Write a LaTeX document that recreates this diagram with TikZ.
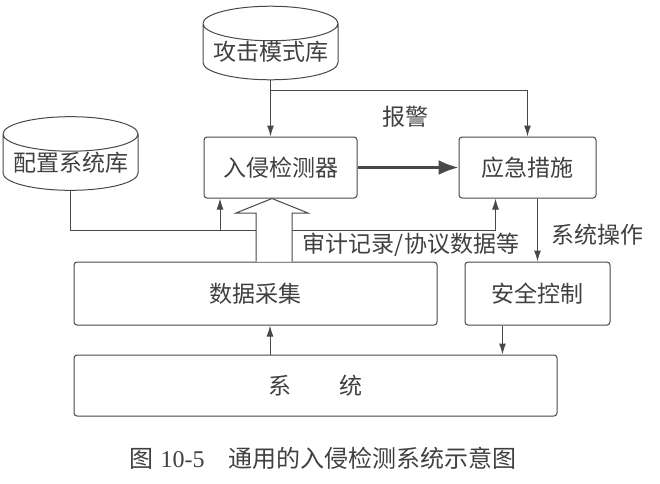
\documentclass[tikz,border=0pt]{standalone}
\usepackage{fontspec}
\newfontfamily\cjk{Noto Sans CJK SC}
\newfontfamily\capnum{Liberation Serif}
\usetikzlibrary{arrows.meta, shapes.geometric, positioning, calc}
\tikzset{every node/.append style={align=center}}
\definecolor{linegray}{RGB}{72,72,72}
\definecolor{textgray}{RGB}{64,64,64}

\tikzset{
  box/.style={draw=linegray, line width=1pt, rounded corners=3pt, inner sep=0pt,
              text=textgray, font=\cjk\fontsize{23}{26}\selectfont},
  db/.style={cylinder, shape border rotate=90, aspect=0.3, draw=linegray,
             line width=1pt, inner sep=0pt, minimum width=135pt, minimum height=65pt,
             anchor=shape center, text=textgray, font=\cjk\fontsize{23}{26}\selectfont},
  lbl/.style={text=textgray, inner sep=0pt, font=\cjk\fontsize{23}{26}\selectfont},
  flow/.style={linegray, line width=1pt, -{Latex[length=11pt,width=7pt]}}
}

\begin{document}
\begin{tikzpicture}[x=1pt,y=-1pt]
\useasboundingbox (0,0) rectangle (660,483);

% ── Databases ────────────────────────────────────────────────────────────────
\node[db] (atk) at (270.5,43) {攻击模式库};
\node[db] (cfg) at (70.5,153.5) {配置系统库};

% ── Boxes ────────────────────────────────────────────────────────────────────
\node[box, minimum width=153pt, minimum height=61pt] (ids)     at (280.5,167.5) {入侵检测器};
\node[box, minimum width=137pt, minimum height=61pt] (resp)    at (527.5,167.5) {应急措施};
\node[box, minimum width=363pt, minimum height=63pt] (collect) at (255.5,293.5) {数据采集};
\node[box, minimum width=145pt, minimum height=63pt] (safe)    at (537.5,293.5) {安全控制};
\node[box, minimum width=483pt, minimum height=61pt] (sys)     at (315.5,385.5) {系\hspace{2.1em}统};

% Attack patterns -> detector, branch -> response
\draw[flow] (atk.south) -- (atk.south |- ids.north);
\coordinate (tap) at (atk.south |- 0,90);
\draw[flow] (tap) -| (resp.north);
\node[lbl] (alarm) at (405,117) {报警};

% Config db -> detector and response
\coordinate (respin) at ($(resp.south)+(-32,0)$);
\draw[flow] (cfg.south) |- ($(respin)+(0,32)$) -- (respin);
\coordinate (cfgjoin) at (220,230);
\draw[flow] (cfgjoin) -- (cfgjoin |- ids.south);

% Detector -> response (thick)
\draw[linegray, line width=2.6pt, -{Latex[length=20pt,width=15pt]}] (ids.east) -- (resp.west);

% Hollow data arrow
\draw[linegray, line width=1pt, fill=white]
  (256,0 |- collect.north) -- (256,213) -- (236,213) -- (272,0 |- ids.south)
  -- (308,213) -- (292,213) -- (292,0 |- collect.north);
\node[lbl] (audit) at (411,245) {审计记录/协议数据等};

% Response -> security control -> system
\draw[flow] (safe.north |- resp.south) -- (safe.north);
\node[lbl] (sysop) at (597,235) {系统操作};
\coordinate (safeout) at ($(safe.south)+(-35,0)$);
\draw[flow] (safeout) -- (safeout |- sys.north);

% System -> data collection
\coordinate (sysout) at (270,0 |- sys.north);
\draw[flow] (sysout) -- (sysout |- collect.south);

% Caption
\node[text=textgray, inner sep=0pt, font=\fontsize{24}{28}\selectfont] (caption) at (323,458)
  {{\cjk 图} {\capnum 10-5}\hspace{1em}{\cjk 通用的入侵检测系统示意图}};

\end{tikzpicture}
\end{document}
